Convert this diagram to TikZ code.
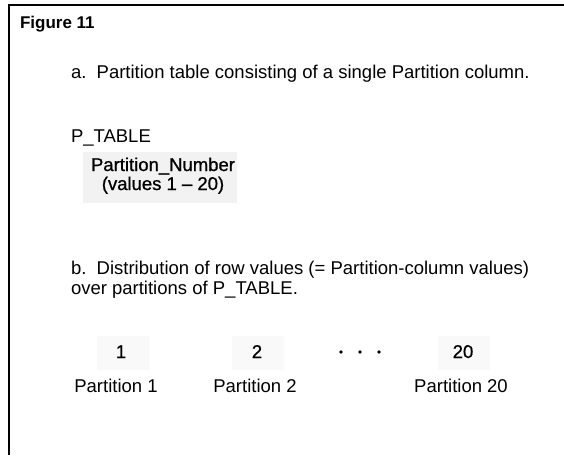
\documentclass[tikz,border=0pt]{standalone}
\usepackage{fontspec}
\setmainfont{Liberation Sans}
\newfontfamily\darkfont[FakeBold=0.8, Ligatures=TeX]{Liberation Sans}
\tikzset{
  txt/.style={anchor=base west},
  ctxt/.style={anchor=base},
  darktxt/.style={anchor=base, font=\fontsize{18.5}{22}\darkfont},
  shadebox/.style={fill=black!5, draw=none},
  faintbox/.style={fill=black!2.5, draw=none},
  dotmark/.style={circle, fill=black, minimum size=3.8pt}
}

\begin{document}
\begin{tikzpicture}[x=1pt, y=-1pt, every node/.style={inner sep=0pt, outer sep=0pt, font=\fontsize{18.5}{22}\selectfont}]
\useasboundingbox (0,0) rectangle (564,455);
\newcommand\XText{71}
\newcommand\YNum{358}
\newcommand\YPart{392}
% frame
\draw[line width=1.1pt] (564,5) -- (9,5) -- (9,455);
\node[txt, font=\fontsize{17}{20}\selectfont\bfseries] (title) at (20,28) {Figure 11};
% part a
\node[txt] (parta) at (\XText,78) {a.\ \ Partition table consisting of a single Partition column.};
\node[txt] (ptable) at (\XText,142) {P\_TABLE};
\path[shadebox] (83,152) rectangle (237,203);
\node[darktxt] (pcol) at (163,171) {Partition\_Number};
\node[darktxt] (pvals) at (163,190) {(values 1 \textendash{} 20)};
% part b
\node[txt] (partb) at (\XText,274) {b.\ \ Distribution of row values (= Partition-column values)};
\node[txt] (partbb) at (\XText,294) {over partitions of P\_TABLE.};
\path[faintbox] (97,336) rectangle (149,370)
                (232,336) rectangle (284,370)
                (438,336) rectangle (490,370);
\node[darktxt] (val1) at (121,\YNum) {1};
\node[darktxt] (val2) at (257,\YNum) {2};
\node[darktxt] (val20) at (463,\YNum) {20};
\foreach \i/\x in {1/341, 2/360, 3/379}
  \node[dotmark] (dot\i) at (\x,352) {};
\node[ctxt] (part1) at (116,\YPart) {Partition 1};
\node[ctxt] (part2) at (255,\YPart) {Partition 2};
\node[ctxt] (part20) at (461,\YPart) {Partition 20};
\end{tikzpicture}
\end{document}
